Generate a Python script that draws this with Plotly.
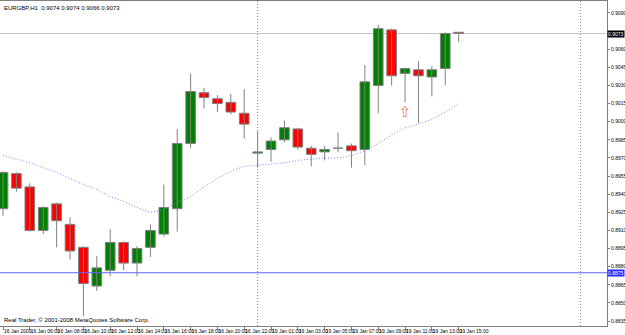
import plotly.graph_objects as go

# ---------------- data ----------------
bar_times = (["16 Jan 2009"] + ["16 Jan %02d:00" % h for h in range(5, 23)] +
             ["19 Jan %02d:00" % h for h in range(0, 16)])

open_ = [0.8928, 0.8957, 0.8946, 0.8910, 0.8932, 0.8915, 0.8896, 0.8864, 0.8877, 0.8900,
         0.8883, 0.8896, 0.8907, 0.8928, 0.8982, 0.9024, 0.9019, 0.9016, 0.9007, 0.8974,
         0.8977, 0.8985, 0.8994, 0.8978, 0.8975, 0.8978, 0.8980, 0.8977, 0.9030, 0.9076,
         0.9040, 0.9043, 0.9037, 0.9044, 0.9074]
high = [0.8959, 0.8958, 0.8949, 0.8930, 0.8933, 0.8921, 0.8897, 0.8889, 0.8911, 0.8901,
        0.8897, 0.8915, 0.8948, 0.8994, 0.9040, 0.9028, 0.9022, 0.9023, 0.9027, 0.8992,
        0.8987, 0.9001, 0.8995, 0.8980, 0.8980, 0.8991, 0.8982, 0.9047, 0.9080, 0.9077,
        0.9045, 0.9050, 0.9046, 0.9074, 0.9074]
low = [0.8922, 0.8942, 0.8909, 0.8907, 0.8896, 0.8886, 0.8839, 0.8860, 0.8872, 0.8877,
       0.8872, 0.8888, 0.8905, 0.8909, 0.8978, 0.9011, 0.9008, 0.9006, 0.8986, 0.8962,
       0.8967, 0.8983, 0.8977, 0.8963, 0.8968, 0.8975, 0.8962, 0.8964, 0.9007, 0.9030,
       0.9016, 0.8999, 0.9021, 0.9030, 0.9066]
close = [0.8958, 0.8945, 0.8910, 0.8929, 0.8918, 0.8893, 0.8866, 0.8879, 0.8900, 0.8883,
         0.8895, 0.8910, 0.8929, 0.8982, 0.9025, 0.9020, 0.9015, 0.9008, 0.8998, 0.8975,
         0.8984, 0.8995, 0.8979, 0.8973, 0.8977, 0.8978, 0.8976, 0.9033, 0.9077, 0.9038,
         0.9044, 0.9038, 0.9043, 0.9073, 0.9073]
ma = [0.8972, 0.8969, 0.8966, 0.8962, 0.8958, 0.8953, 0.8948, 0.8944, 0.8938, 0.8934,
      0.8929, 0.8925, 0.8927, 0.8933, 0.8938, 0.8946, 0.8953, 0.8959, 0.8963, 0.8964,
      0.8965, 0.8966, 0.8968, 0.8969, 0.8970, 0.8970, 0.8972, 0.8976, 0.8982, 0.8989,
      0.8995, 0.8998, 0.9002, 0.9008, 0.9015]

y_ticks = [0.8835, 0.8850, 0.8865, 0.8880, 0.8895, 0.8910, 0.8925, 0.8940, 0.8955,
           0.8970, 0.8985, 0.9000, 0.9015, 0.9030, 0.9045, 0.9060, 0.9075, 0.9090]
x_label_idx = [0, 2, 4, 6, 8, 10, 12, 14, 16, 18, 20, 22, 24, 26, 28, 30, 32, 34]

current_price = 0.9073
blue_level = 0.8875
day_separator_bar = 19
vline_bar = 43.1
arrow_bar = 30
arrow_price = 0.9007
symbol = "EURGBP,H1"

FONT = "Liberation Sans Narrow, Arial Narrow, Liberation Sans, sans-serif"

# ---------------- figure ----------------
n = len(open_)
xs = list(range(n))

fig = go.Figure()

# MA (dotted)
fig.add_trace(go.Scatter(x=xs, y=ma, mode="lines",
                         line=dict(color="#8080ff", width=1, dash="1px,2px"),
                         hoverinfo="skip"))

# wicks
wx, wy = [], []
for i in xs:
    wx += [i, i, None]
    wy += [low[i], high[i], None]
fig.add_trace(go.Scatter(x=wx, y=wy, mode="lines",
                         line=dict(color="#808080", width=1), hoverinfo="skip"))

# bodies
base, height, colors = [], [], []
for o, c in zip(open_, close):
    base.append(min(o, c))
    height.append(max(abs(c - o), 0.00002))
    if c > o:
        colors.append("#008000")
    elif c < o:
        colors.append("#ff0000")
    else:
        colors.append("#c0c0c0")
fig.add_trace(go.Bar(x=xs, y=height, base=base, width=0.72,
                     marker=dict(color=colors, line=dict(color="#808080", width=1)),
                     hoverinfo="skip"))

# arrow signal
fig.add_trace(go.Scatter(x=[arrow_bar], y=[arrow_price], mode="text", text=["⇧"],
                         textfont=dict(family="DejaVu Sans", size=15, color="#f07850"),
                         hoverinfo="skip"))

shapes = [
    dict(type="line", xref="paper", x0=0, x1=1, yref="y", y0=current_price, y1=current_price,
         line=dict(color="#c8c8c8", width=1), layer="below"),
    dict(type="line", xref="paper", x0=0, x1=1, yref="y", y0=blue_level, y1=blue_level,
         line=dict(color="#6464ff", width=1)),
    dict(type="line", xref="x", x0=day_separator_bar, x1=day_separator_bar, yref="paper",
         y0=0, y1=1, line=dict(color="#808080", width=1, dash="1px,2px")),
    dict(type="line", xref="x", x0=vline_bar, x1=vline_bar, yref="paper",
         y0=0, y1=1, line=dict(color="#808080", width=1, dash="1px,2px")),
]

last = n - 1
title_text = "%s  %.4f %.4f %.4f %.4f" % (symbol, open_[last], high[last], low[last], close[last])

annotations = [
    dict(xref="paper", yref="paper", x=0, y=1, xanchor="left", yanchor="top",
         text=title_text, showarrow=False, xshift=2, yshift=-2,
         font=dict(family=FONT, size=6, color="#000000")),
    dict(xref="paper", yref="paper", x=0, y=0, xanchor="left", yanchor="bottom",
         text="Real Trader, © 2001-2008 MetaQuotes Software Corp.", showarrow=False,
         xshift=2, yshift=1, font=dict(family=FONT, size=6, color="#000000")),
    dict(xref="paper", yref="y", x=1, y=current_price, xanchor="left", yanchor="middle",
         text="%.4f" % current_price, showarrow=False, bgcolor="#000000", borderpad=0,
         font=dict(family=FONT, size=5, color="#ffffff")),
    dict(xref="paper", yref="y", x=1, y=blue_level, xanchor="left", yanchor="middle",
         text="%.4f" % blue_level, showarrow=False, bgcolor="#2828ff", borderpad=0,
         font=dict(family=FONT, size=5, color="#ffffff")),
]

# the 0.9075 tick sits under the current-price box, as in the reference
y_ticktext = ["" if abs(v - 0.9075) < 1e-9 else "%.4f" % v for v in y_ticks]

fig.update_layout(
    width=625, height=335,
    margin=dict(l=0, r=18, t=1, b=9),
    paper_bgcolor="white", plot_bgcolor="white",
    showlegend=False,
    shapes=shapes, annotations=annotations,
    xaxis=dict(range=[-0.224, 45.07], tickmode="array", tickvals=x_label_idx,
               ticktext=[bar_times[i] for i in x_label_idx],
               ticks="outside", ticklen=3, tickcolor="#808080", tickangle=0,
               showline=True, linecolor="#808080", mirror=True, automargin=False,
               showgrid=False, zeroline=False, ticklabelposition="outside right",
               tickfont=dict(family=FONT, size=5, color="#000000")),
    yaxis=dict(side="right", range=[0.88309, 0.90999], tickmode="array",
               tickvals=y_ticks, ticktext=y_ticktext,
               ticks="outside", ticklen=2, tickcolor="#808080", automargin=False,
               showline=True, linecolor="#808080", mirror=True,
               showgrid=False, zeroline=False,
               tickfont=dict(family=FONT, size=5, color="#000000")),
)

fig.write_html("out.html")
